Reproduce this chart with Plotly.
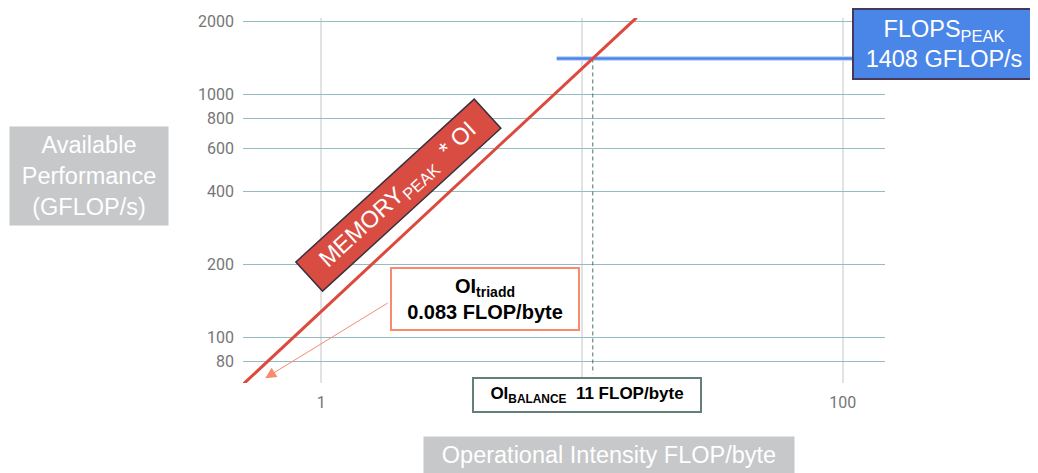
import plotly.graph_objects as go

# roofline values
peak_flops = 1408            # GFLOP/s
oi_balance = 11              # FLOP/byte
mem_oi = [0.5, 16.2]         # points along the memory roof
mem_perf = [64, 2074]
flops_oi = [8, 145]
flops_perf = [peak_flops, peak_flops]
balance_perf = [peak_flops, 71]

x_ticks = [1, 10, 100]
x_labels = ["1", "", "100"]
y_ticks = [80, 100, 200, 400, 600, 800, 1000, 2000]
y_labels = [str(v) for v in y_ticks]

RED = "#dc4a3d"
BLUE = "#4a86e8"
SALMON = "#f68b6e"
TEXT = "Arial, Liberation Sans, sans-serif"

fig = go.Figure()

fig.add_trace(go.Scatter(x=flops_oi, y=flops_perf, mode="lines",
                         line=dict(color="#c4d8f7", width=5), hoverinfo="skip"))
fig.add_trace(go.Scatter(x=flops_oi, y=flops_perf, mode="lines",
                         line=dict(color=BLUE, width=2.5)))
fig.add_trace(go.Scatter(x=[oi_balance, oi_balance], y=balance_perf, mode="lines",
                         line=dict(color="#4f6f6c", width=1, dash="4px,3px")))
fig.add_trace(go.Scatter(x=mem_oi, y=mem_perf, mode="lines",
                         line=dict(color=RED, width=3)))

# plot area in page pixels: x 243..885, y 18..383 (page has an 8px body margin)
def px(x):
    return (x - 243) / 642

def py(y):
    return (383 - y) / 365

def box(x, y, **kw):
    fig.add_annotation(xref="paper", yref="paper", x=px(x), y=py(y),
                       xanchor="center", yanchor=kw.pop("yanchor", "middle"),
                       showarrow=False, borderpad=0, **kw)

# memory roof label (rotated box)
box(398, 195.5, text="MEMORY<sub>PEAK</sub>  * OI", textangle=-42.4,
    width=240, height=38, bgcolor="#d94c42", bordercolor="#3b3040", borderwidth=1.5,
    font=dict(family=TEXT, size=23.5, color="white"))

# peak flops box
box(944, 44, text="FLOPS<sub>PEAK</sub><br>1408 GFLOP/s", width=180, height=68,
    bgcolor=BLUE, bordercolor="#45385a", borderwidth=2,
    font=dict(family=TEXT, size=23.5, color="white"))

# triadd box + arrow
box(485, 299, text="<b>OI<sub>triadd</sub></b><br><b>0.083 FLOP/byte</b>",
    width=186, height=60, bgcolor="white", bordercolor=SALMON, borderwidth=2,
    font=dict(family=TEXT, size=20, color="black"))
fig.add_annotation(x=-0.215, y=1.833, xref="x", yref="y", text="",
                   showarrow=True, ax=124, ay=-76, arrowhead=2, arrowsize=2.2,
                   arrowwidth=1, arrowcolor=SALMON)

# balance box
box(587, 395, text="<b>OI<sub>BALANCE</sub>&nbsp;&nbsp;11 FLOP/byte</b>",
    width=226, height=32, bgcolor="white", bordercolor="#627f7b", borderwidth=2,
    font=dict(family=TEXT, size=17, color="black"))

# axis titles as grey boxes
box(89, 176, text="Available<br>Performance<br>(GFLOP/s)", width=158, height=98,
    bgcolor="#c6c8c9", font=dict(family=TEXT, size=23.5, color="white"))
box(609, 436, yanchor="top", text="Operational Intensity FLOP/byte",
    width=370, height=36, bgcolor="#c6c8c9",
    font=dict(family=TEXT, size=23.5, color="white"))

fig.update_xaxes(type="log", range=[-0.3, 2.162], tickvals=x_ticks, ticktext=x_labels,
                 showgrid=True, gridcolor="#e2e2e2", gridwidth=2, zeroline=False,
                 showline=False, ticks="", ticklabelstandoff=8,
                 tickfont=dict(family="Roboto", size=16, color="#767676"))
fig.update_yaxes(type="log", range=[1.813, 3.315], tickvals=y_ticks, ticktext=y_labels,
                 showgrid=True, gridcolor="#93bdc0", gridwidth=1.3, zeroline=False,
                 showline=False, ticks="", ticklabelstandoff=8,
                 tickfont=dict(family="Roboto", size=16, color="#767676"))

fig.update_layout(width=1030, height=465, showlegend=False,
                  margin=dict(l=235, r=153, t=10, b=90, autoexpand=False),
                  plot_bgcolor="white", paper_bgcolor="white")

fig.write_html("out.html")
